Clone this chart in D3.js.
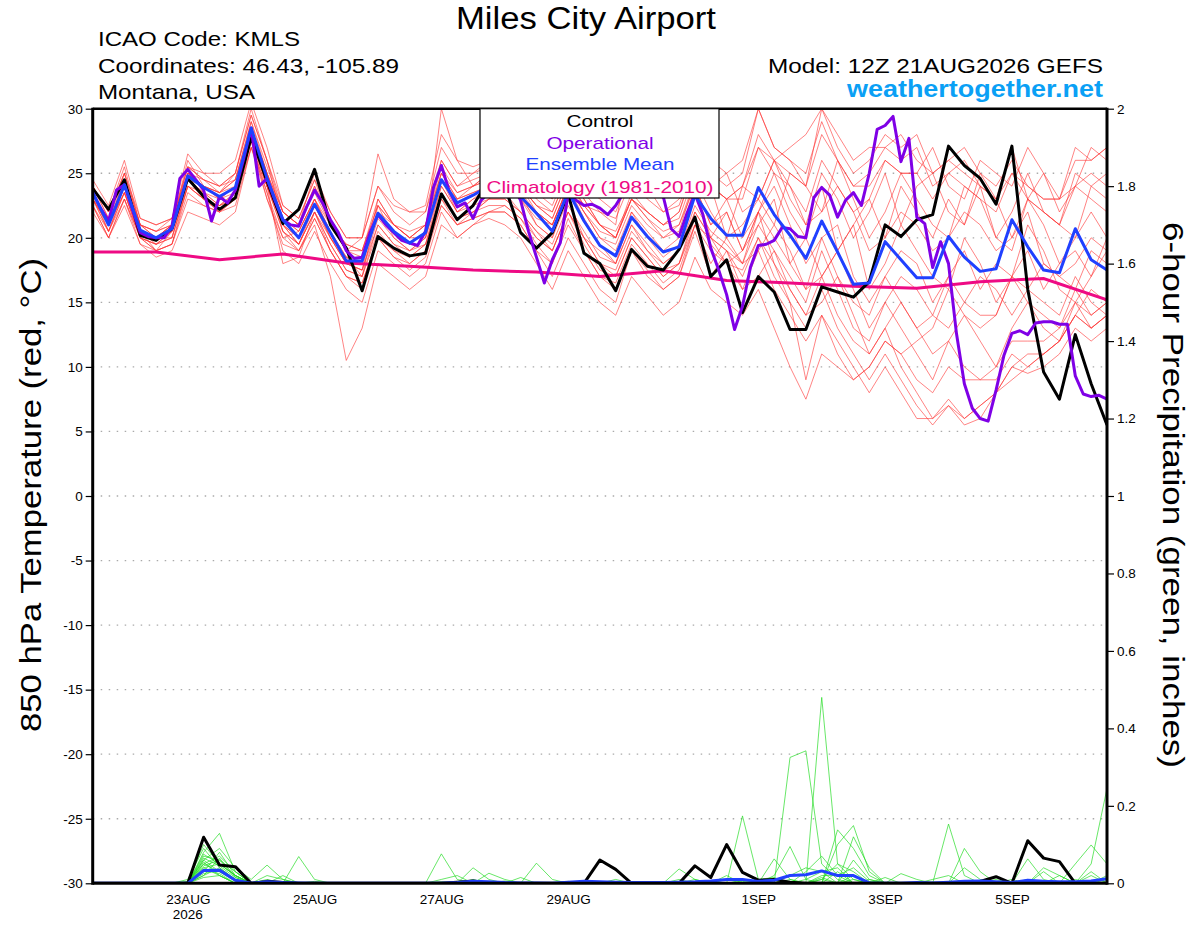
<!DOCTYPE html>
<html><head><meta charset="utf-8">
<script src="https://cdn.jsdelivr.net/npm/d3@7"></script>
<style>
body{margin:0;background:#fff}
svg{display:block;font-family:"Liberation Sans",Arial,Helvetica,sans-serif}
</style>
</head><body>
<svg id="c" width="1200" height="927"></svg>
<script>
// ---------------- DATA ----------------
const titleText = "Miles City Airport";
const infoLines = ["ICAO Code: KMLS", "Coordinates: 46.43, -105.89", "Montana, USA"];
const modelText = "Model: 12Z 21AUG2026 GEFS";
const siteText = "weathertogether.net";
const legendLabels = ["Control", "Operational", "Ensemble Mean", "Climatology (1981-2010)"];
const tempTicks = [-30,-25,-20,-15,-10,-5,0,5,10,15,20,25,30];
const precipTicks = [0,0.2,0.4,0.6,0.8,1,1.2,1.4,1.6,1.8,2];
const dateTicks = ["2026-08-23","2026-08-25","2026-08-27","2026-08-29","2026-09-01","2026-09-03","2026-09-05"];
const dateTickLabels = ["23AUG","25AUG","27AUG","29AUG","1SEP","3SEP","5SEP"];
const yearLabel = "2026";

// 850 hPa temperature, 6-hourly from 12Z 21AUG2026 (65 values)
const controlTemp = [
 23.8,22.2,24.5,20.2,19.8,20.7,24.6,23.2,22.2,23.1,27.8,24.4,21.1,
 22.2,25.3,21.0,19.2,15.9,20.1,19.2,18.6,18.8,23.4,21.4,22.5,24.5,
 24.0,20.4,19.2,20.4,23.4,18.8,18.0,15.9,19.1,17.8,17.5,19.1,21.6,
 17.0,18.3,14.2,17.0,15.8,12.9,12.9,16.2,15.8,15.4,16.6,21.0,20.1,
 21.4,21.8,27.1,25.6,24.6,22.6,27.1,16.0,9.6,7.5,12.5,8.7,5.5];
const meanTemp = [
 23.5,21.0,24.1,20.6,20.0,20.7,24.8,23.9,23.2,23.9,28.5,24.6,21.4,
 20.0,22.6,20.4,18.2,18.2,21.9,20.5,19.6,20.4,24.5,22.7,23.3,24.0,
 24.2,23.2,21.9,20.5,23.6,21.3,19.4,18.6,21.6,20.1,18.9,19.3,23.3,
 21.5,20.2,20.2,23.9,21.8,20.2,18.4,21.3,18.9,16.4,16.5,19.7,18.3,
 16.9,16.9,20.1,18.5,17.4,17.6,21.4,19.3,17.5,17.3,20.7,18.3,17.5];
// operational, 3-hourly (129 values)
const operTemp = [
 23.5,22.3,21.3,23.7,24.1,22.2,20.4,20.1,20.0,20.0,
 20.9,24.6,25.3,24.5,23.7,21.3,23.2,22.7,23.7,26.0,
 28.5,24.0,24.6,22.9,21.4,21.0,20.9,22.4,23.7,22.7,
 21.4,20.4,19.0,18.4,18.5,20.4,21.8,21.0,20.4,19.8,
 19.6,19.4,20.5,23.9,25.6,23.6,22.4,22.7,21.5,22.9,
 23.5,24.0,24.5,24.0,22.9,20.5,18.5,16.5,18.3,19.6,
 23.4,22.9,22.5,22.6,22.3,21.8,22.5,23.5,24.0,24.5,
 24.5,24.2,23.2,20.7,20.1,21.9,23.4,21.8,19.2,17.5,
 15.6,12.9,14.7,17.7,19.4,19.5,19.8,20.8,20.7,20.1,
 20.0,23.1,23.9,23.3,21.6,22.9,23.5,22.5,25.0,28.4,
 28.7,29.4,25.9,27.7,21.6,21.1,17.7,19.7,18.0,12.6,
 8.7,6.8,6.0,5.8,8.2,10.9,12.6,12.8,12.5,13.4,
 13.5,13.5,13.3,13.3,9.3,7.9,7.7,7.8,7.5];
// climatology, daily at 12Z (17 values)
const climTemp = [18.9,18.9,18.3,18.75,18.05,17.8,17.5,17.35,17.0,17.45,16.7,16.5,16.25,16.1,16.6,16.85,15.2];

// ensemble members, 850 hPa temperature (20 x 65)
const memberTemps = [
 [24,21.5,25,21,20,21,25.5,24.5,24,25,29.5,26,22, 21,24,21.5,19,19,23,21,20,21,26,24,25,25.5, 26,25,23,22,25,23,21,20,23,22,21,22,26, 24,23,23,27,25,24,22,26,24,22,23,26,25, 25,27,24,23,26,25,24,27,25,23,24,27,26],
 [23,20.5,23.5,20,19.5,20,24,23,22.5,23,28,24,21, 19.5,22,19.5,17.5,17,21,19.5,18.5,19.5,23.5,21.5,22,23, 23,22,20.5,19,22,20,18,17,20,18.5,17,18,21.5, 19.5,18,17.5,20,18,16,14,17,14,12,11,13,10, 8,6,7.5,6,7,8,10,9.5,10,11,13,12,13],
 [22.5,20,23,20,19,20.5,24.5,23,22,23.5,27.5,23,20, 20.5,23,20,18,17.5,23,21,20,20,30,26,24,25, 25,24,22,21,24,22,20,19,22,20.5,19,20,24, 21,22,19,22,24,21,18,20,21,17,15,17,19, 18,15,17,19,16,18,17,21,19,16,15,17,19],
 [24,22,25,21,20.5,21.5,25,24,23.5,24,28.5,25,20.5, 19,21,17,10.5,13,18,17,16,17,21,20,21,22, 22,21,19,17,20,18,16,15,19,17,16,17,21, 20,18,19,22,20,18,16,20,17,15,14,17,15, 13,14,17,15,14,14,17,16,15,14,17,15,14],
 [23.5,21,24.5,20.5,20,21,25,24.5,23.5,24.5,29,25,22, 21,25,22,20,20,24,22,21,22,27,25,25,26, 27,25,24,23,26,24,23,22,25,24,23,24,27, 26,25,26,30,27,26,24,30,27,25,26,28,27, 28,25,26,27,25,24,26,24,23,23,27,26,27],
 [23,21,23.5,20.5,19,19.5,24,23,22,23,27,23.5,19, 18,20.5,18,16,15,19,18,17,18,22,20,21,21.5, 21,20,18,16,19,17,15,14,17,15.5,14,15,18.5, 16,15,14,16,13,10,7.5,11,10,9,10,12,11, 12,13,16,14,13,14,17,15,14,13,16,14,15],
 [24.5,22.5,26,21.5,21,21.5,26.5,25,25,26,30.5,27,22.5, 21.5,24.5,21,19.5,19,22.5,21,20.5,21,25,23,24,24.5, 25,23,21.5,21,24,22.5,22,21,28,24,22,23,25, 24,25,22,23,26,24,21,22,24,22,19,20,22, 21,19,20,22,21,19,20,22,18,17,18,20,19],
 [22,20,22.5,19.5,18.5,19,22,21.5,21,22,27,24,18, 18.5,22,19,17,16,20,18.5,18,19,23,21.5,22,23, 24,23,21,20,23,20,19,18,21,19,18,19,22, 20,19,18,21,19,17,15,19,16,13,12,15,13, 11,9,12,10,9,9,11,10,11,12,15,13,14],
 [23,21.5,24,20.5,20,20.5,25,24,23,24,28.5,24.5,21, 20,22.5,20,18.5,18.5,22,20.5,19.5,20.5,25,23,23.5,24, 24.5,23.5,22,21,24,22,20,19.5,22.5,21,20,20.5,24.5, 22,20,24,23,21,25,24,22,26,23,20,22,25, 23,21,20,24,23,20,22,25,22,21,20,24,23],
 [23.5,20.5,24,20.5,20,21,24.5,23.5,23,23.5,28,24,21, 19.5,22,20,18,17.5,21,19.5,19,20,24,22,23,23.5, 23.5,22,20,19,22,20,18,17.5,20.5,19,17.5,18,22, 20,19,17,20,17,15,13,16,13,11,9,11,9, 7,5.5,7,5.5,6,8,9,10,11,12,14,13,14],
 [24,21.5,24.5,21,20.5,21,25.5,24.5,24,24.5,29,25.5,22, 21,23.5,21,19,20,26.5,23,22,22,26,24,24.5,25, 25,24,22.5,21.5,24.5,22.5,21,20,23,21.5,20,21,24, 21,23,20,22,25,22,20,24,19,21,23,20,24, 22,20,23,21,24,20,19,23,21,18,20,22,20],
 [23,21,24,20.5,20,20,24.5,23.5,22.5,23.5,28,24,21.5, 20.5,23,20.5,18.5,18,22,21,20,21,25.5,23.5,24,24.5, 25,24,22.5,22,25,23,21,20,23,22,21,22,25.5, 24,23,24,28,26,25,24,28,26,24,25,27,26, 27,24,25,26,24,23,27,23,22,21,25,24,25],
 [22.5,20.5,23,19.5,19,19.5,23,22.5,22,22.5,27,23,19.5, 19,21.5,19,17,16.5,20,19,18,19,22.5,21,21.5,22, 22,21,19,18,21,19,17,16,19,17.5,16,17,20.5, 17,19,16,17,19,16,14,15,17,14,11,13,15, 13,11,12,14,12,10,13,15,13,12,14,16,15],
 [24,22,25.5,21,20,21,26,24,23.5,25,29.5,26,21, 20,23,20.5,18.5,17,22.5,20,19,20,24.5,22,23,24, 25,23.5,21,20,24,21.5,19.5,18,22,20,18.5,19.5,24, 20,22,19,21,23,18,20,17,19,21,16,18,21, 19,17,16,20,18,15,17,19,16,18,19,17,20],
 [23.5,21,24,20.5,19.5,20.5,24.5,24,23,24,28.5,25,21.5, 20.5,23,21,19,18.5,22,20.5,19.5,20.5,24.5,23,23.5,24, 24,23,22,21,24,22,20.5,20,23.5,22,21,21.5,25, 24,23,24,27,26,27,28,30,28,26,27,27,28, 26,25,26,25,24,23,25,24,23,23,26,26,27],
 [23,20.5,23.5,20,19.5,20,24,23.5,22.5,23.5,28,24,20.5, 19.5,22.5,20,18,17.5,21.5,20,19,19.5,24,22,22.5,23, 23,22,20.5,19.5,22.5,20.5,18.5,18,21,19.5,18,19,22.5, 20.5,19.5,18,22,18,15,9,14,12,10,8,10,8, 6,6,7,6,7,8,10,11,11,12,14,13,14],
 [23.5,21,24.5,21,20.5,21,25,24,23.5,24.5,28.5,25,22, 21,24,21,19.5,19,22.5,21,20,21,25,23.5,24,25, 25,24,22.5,21.5,24.5,22.5,21,20.5,23,21.5,20.5,21,24.5, 24,20,21,23,26,23,21,25,23,20,22,25,21, 24,25,22,21,25,23,20,23,25,22,24,25,24],
 [22.5,20,23,20,19,19.5,23.5,22.5,22,23,27.5,23.5,20, 19,21.5,19,17,16.5,20,18.5,17.5,18.5,22.5,21,21.5,22, 22.5,21.5,20,19,22,19.5,17.5,17,20,18.5,17,18,21, 18,20,18,19,21,19,16,17,19,16,13,15,17, 16,14,13,15,17,16,14,16,18,17,16,19,18],
 [24,22,25,21.5,21,21.5,25.5,25,24,25,30,26,22.5, 21.5,24.5,22,20,20,24,22.5,22,22.5,28,26,25.5,26, 26,25,23.5,22.5,25.5,23.5,22,21.5,24.5,23,22,22.5,26, 25,24,25,30,27,26,25,29,26,24,24,26,25, 25,23,25,24,23,22,25,23,22,21,24,23,22],
 [23,21,23.5,20,19.5,20.5,24,23,22.5,23,27.5,24,20.5, 19.5,22,19.5,17.5,17,20.5,19,18.5,19.5,23,21,22,22.5, 22.5,21.5,19.5,18,21.5,19,17,16.5,19.5,18,16.5,17.5,21, 19,18,16,19,16,14,12,14,11,9,10,12,11, 9,8,10,9,9,10,12,12,12,13,15,14,15]
];

// 6-hour precipitation (inches), 65 values
const controlPrecip = [
 0,0,0,0,0,0,0,0.119,0.047,0.043,0,0.005,0.002,
 0,0,0,0,0,0,0,0,0,0,0.003,0.006,0,
 0,0,0,0,0,0,0.06,0.036,0,0,0,0,0.045,
 0.015,0.1,0.028,0.008,0.01,0.003,0,0,0,0,0,0,0,
 0,0,0,0,0.005,0.017,0,0.11,0.065,0.056,0,0,0];
const meanPrecip = [
 0,0,0,0,0,0,0,0.033,0.034,0.008,0,0.004,0.002,
 0.001,0,0,0,0,0,0,0,0,0,0.002,0.005,0.004,
 0.002,0.001,0.001,0,0.003,0.005,0.004,0.003,0.002,0.002,0.002,0.003,0.004,
 0.006,0.01,0.01,0.005,0.008,0.02,0.022,0.032,0.02,0.02,0.001,0,0,
 0.002,0.001,0.003,0.005,0.006,0.004,0.002,0.008,0.005,0.004,0.004,0.006,0.012];
const memberPrecips = [
 [0,0,0,0,0,0,.005,.1,.05,.02,0,0,0, 0,0,0,0,0,0,0,0,0,.076,.01,0,0, 0,0,0,0,0,0,0,0,0,0,0,0,0, 0,0,0,0,0,.325,.342,.05,.01,0,0,0,0, 0,0,0,0,0,0,.01,0,0,0,0,0,0],
 [0,0,0,0,0,0,0,.08,.129,.03,0,0,0, .069,.01,0,0,0,0,0,0,0,0,0,0,0, 0,0,0,0,0,0,0,0,0,0,0,0,0, 0,0,0,0,0,0,0,.48,.05,.01,0,0,0, 0,0,0,0,0,0,0,0,.03,0,0,0,0],
 [0,0,0,0,0,0,0,.06,.09,.04,.01,.047,.01, 0,0,0,0,0,0,0,0,0,0,0,0,0, 0,0,.052,.01,0,0,0,0,0,0,0,0,0, 0,0,.174,.01,0,0,0,0,0,0,0,0,0, 0,0,.153,.02,0,0,0,0,0,0,0,0,0],
 [0,0,0,0,0,0,0,.07,.06,.02,0,0,0, 0,0,0,0,0,0,0,0,0,0,0,.04,.01, 0,0,0,0,0,0,0,0,0,0,0,0,0, 0,0,0,0,0,0,0,0,.138,.09,.02,0,0, 0,0,0,0,0,0,0,0,0,0,0,.05,.245],
 [0,0,0,0,0,0,0,.05,.07,.03,0,0,.02, 0,0,0,0,0,0,0,0,0,0,0,0,0, 0,0,0,0,0,0,0,0,0,0,0,0,0, 0,0,0,0,0,0,0,0,.1,.149,.03,0,0, 0,0,0,0,0,0,0,.063,.01,0,0,0,0],
 [0,0,0,0,0,0,.01,.09,.04,.01,0,0,0, 0,0,0,0,0,0,0,0,0,0,0,0,0, 0,0,0,0,0,0,0,0,0,0,0,0,0, 0,0,0,0,.02,.095,.01,0,0,0,0,0,0, 0,0,0,.09,.03,0,0,0,0,0,0,0,0],
 [0,0,0,0,0,0,0,.04,.05,.02,0,0,0, 0,0,0,0,0,0,0,0,0,0,0,0,.026, .01,0,0,0,0,0,0,0,0,0,0,.037,.01, 0,0,0,0,0,0,0,0,0,.12,.04,0,0, 0,0,0,0,0,0,0,0,0,0,.05,.099,.05],
 [0,0,0,0,0,0,0,.03,.08,.02,0,.02,.01, 0,0,0,0,0,0,0,0,0,0,0,0,0, 0,.015,0,0,0,0,0,0,0,0,0,0,0, 0,0,0,0,.063,.01,0,0,0,.06,.01,0,0, 0,0,0,0,0,0,0,0,0,.02,0,0,0],
 [0,0,0,0,0,0,0,.06,.03,.01,0,0,0, 0,0,0,0,0,0,0,0,0,.01,.02,0,0, 0,0,0,0,0,0,0,.01,0,0,0,0,0, 0,0,0,0,0,0,.03,.07,.02,0,0,0,.025, .01,0,0,0,0,0,0,0,0,0,0,0,0],
 [0,0,0,0,0,0,0,.02,.04,.01,0,0,0, 0,.005,0,0,0,0,0,0,0,0,0,0,0, 0,0,0,0,0,0,0,0,0,0,0,0,.01, 0,0,0,.005,0,0,0,.01,.05,.03,0,.015,0, 0,0,0,0,.005,0,0,0,.04,.02,0,0,0],
 [0,0,0,0,0,0,0,.055,.02,0,0,0,0, 0,0,0,0,0,0,0,0,0,0,0,0,0, 0,0,0,0,.005,0,0,0,0,0,0,0,0, 0,.02,0,0,0,.02,.04,.03,0,0,0,0,0, 0,0,0,0,0,0,0,.01,0,0,0,0,0],
 [0,0,0,0,0,0,0,.045,.06,.03,0,.01,0, 0,0,0,0,0,0,0,0,0,0,0,0,0, 0,0,0,0,0,0,0,0,0,0,0,0,0, 0,0,0,0,0,0,0,.02,.02,.04,.005,0,0, 0,0,0,0,0,0,0,0,0,0,0,.02,0],
 [0,0,0,0,0,0,0,.035,.025,0,0,0,0, 0,0,0,0,0,0,0,0,0,0,.005,0,0, 0,0,0,0,0,0,0,0,0,0,0,0,0, 0,0,0,.01,.015,0,0,0,0,0,0,0,0, 0,0,0,.04,.01,0,0,0,0,0,0,0,0],
 [0,0,0,0,0,0,0,.065,.045,.015,0,0,0, 0,0,0,0,0,0,0,0,0,0,0,0,0, .006,0,0,0,0,0,0,0,0,0,0,0,0, 0,0,0,0,0,.01,0,0,.03,0,0,0,0, 0,0,0,0,0,0,0,0,0,0,0,0,.02],
 [0,0,0,0,0,0,0,.025,.035,.01,0,0,0, 0,0,0,0,0,0,0,0,0,0,0,0,0, 0,0,0,0,0,0,0,0,0,0,0,0,0, 0,.01,0,0,0,0,0,.015,0,0,.01,0,0, 0,0,0,0,0,0,.005,0,0,0,.01,0,0],
 [0,0,0,0,0,0,0,.075,.05,.02,0,0,.005, 0,0,0,0,0,0,0,0,0,0,0,0,0, 0,0,0,0,0,0,0,0,0,0,0,.01,0, 0,0,0,0,0,.005,0,0,0,.02,0,0,0, 0,0,0,0,0,0,0,0,0,0,0,.03,0],
 [0,0,0,0,0,0,0,.015,.02,0,0,0,0, 0,0,0,0,0,0,0,0,0,0,0,0,0, 0,0,0,0,0,0,0,0,0,0,0,0,0, 0,0,0,0,0,0,.01,.03,.04,0,0,0,0, 0,0,0,0,0,0,0,0,.005,0,0,0,0],
 [0,0,0,0,0,0,0,.05,.03,.005,0,0,0, 0,0,0,0,0,0,0,0,0,0,0,.01,0, 0,0,0,0,0,0,0,0,0,0,0,0,0, 0,0,.005,0,0,0,0,0,0,0,0,0,0, 0,.01,.02,0,0,0,0,0,0,0,0,0,0],
 [0,0,0,0,0,0,0,.02,.065,.015,0,0,0, 0,0,0,0,0,0,0,0,0,0,0,0,0, 0,0,0,0,0,.006,0,0,0,0,0,0,0, 0,0,0,0,0,.005,0,.01,0,0,0,0,0, 0,0,0,0,0,0,0,0,0,0,0,0,.01],
 [0,0,0,0,0,0,0,.04,.02,0,0,0,0, 0,0,0,0,0,0,0,0,0,.004,0,0,0, 0,0,0,0,0,0,0,0,0,0,0,0,0, 0,0,0,0,0,0,0,0,0,.01,0,0,0, 0,0,0,0,0,.01,0,0,0,0,0,0,0]
];

// ---------------- CHART ----------------
const svg = d3.select("#c");
const H = 3600e3;
const start = Date.UTC(2026,7,21,12);
const L = 92.7, R = 1107, T = 108.7, B = 883.3;
const x = d3.scaleUtc().domain([new Date(start), new Date(start + 384*H)]).range([L, R]);
const yT = d3.scaleLinear().domain([-30, 30]).range([B, T]);
const yP = d3.scaleLinear().domain([0, 2]).range([B, T]);
const t6 = d3.range(65).map(i => new Date(start + i*6*H));
const t3 = d3.range(129).map(i => new Date(start + i*3*H));
const tD = d3.range(17).map(i => new Date(start + i*24*H));

const C = {red:"#ff3030", green:"#1fdc1f", control:"#000000", oper:"#7f00e6", mean:"#2040ff", clim:"#ee0a84", site:"#0aa0f5"};

svg.append("defs").append("clipPath").attr("id","plot")
  .append("rect").attr("x",L).attr("y",T).attr("width",R-L).attr("height",B-T);

// grid
svg.append("g").selectAll("line").data(tempTicks.filter(v => v > -30 && v < 30)).join("line")
  .attr("x1",L).attr("x2",R).attr("y1",d=>yT(d)).attr("y2",d=>yT(d))
  .attr("stroke","#aaaaaa").attr("stroke-width",1.3).attr("stroke-dasharray","1.5,6.5");

const g = svg.append("g").attr("clip-path","url(#plot)");
const lineT = times => d3.line().x((d,i)=>x(times[i])).y(d=>yT(d));
const lineP = d3.line().x((d,i)=>x(t6[i])).y(d=>yP(d));

g.append("g").selectAll("path").data(memberTemps).join("path")
  .attr("d", lineT(t6)).attr("fill","none").attr("stroke",C.red)
  .attr("stroke-width",0.8).attr("stroke-opacity",0.75);
g.append("g").selectAll("path").data(memberPrecips).join("path")
  .attr("d", lineP).attr("fill","none").attr("stroke",C.green)
  .attr("stroke-width",0.8).attr("stroke-opacity",0.85);

g.append("path").datum(climTemp).attr("d", lineT(tD)).attr("fill","none").attr("stroke",C.clim).attr("stroke-width",3);
g.append("path").datum(controlTemp).attr("d", lineT(t6)).attr("fill","none").attr("stroke",C.control).attr("stroke-width",3).attr("stroke-linejoin","round");
g.append("path").datum(operTemp).attr("d", lineT(t3)).attr("fill","none").attr("stroke",C.oper).attr("stroke-width",3).attr("stroke-linejoin","round");
g.append("path").datum(meanTemp).attr("d", lineT(t6)).attr("fill","none").attr("stroke",C.mean).attr("stroke-width",3).attr("stroke-linejoin","round");
g.append("path").datum(controlPrecip).attr("d", lineP).attr("fill","none").attr("stroke",C.control).attr("stroke-width",3).attr("stroke-linejoin","round");
g.append("path").datum(meanPrecip).attr("d", lineP).attr("fill","none").attr("stroke",C.mean).attr("stroke-width",3).attr("stroke-linejoin","round");

// axes
const axL = svg.append("g").attr("transform",`translate(${L},0)`)
  .call(d3.axisLeft(yT).tickValues(tempTicks).tickSize(7).tickSizeOuter(0).tickPadding(3).tickFormat(d=>String(d)));
const axR = svg.append("g").attr("transform",`translate(${R},0)`)
  .call(d3.axisRight(yP).tickValues(precipTicks).tickSize(7).tickSizeOuter(0).tickPadding(3).tickFormat(d=>String(+d.toFixed(1))));
const axB = svg.append("g").attr("transform",`translate(0,${B})`)
  .call(d3.axisBottom(x).tickValues(dateTicks.map(s=>new Date(s+"T00:00:00Z"))).tickSize(0).tickPadding(11)
  .tickFormat((d,i)=>dateTickLabels[i]));
[axL,axR,axB].forEach(a=>{
  a.select(".domain").remove();
  a.selectAll("text").attr("font-family","Liberation Sans, Arial, sans-serif").attr("font-size",13.5).attr("fill","#000");
  a.selectAll("line").attr("stroke","#000").attr("stroke-width",1.2);
});
svg.append("text").attr("x",x(new Date("2026-08-23T00:00:00Z"))).attr("y",919)
  .attr("text-anchor","middle").attr("font-size",13.5).text(yearLabel);

// frame
const frame = svg.append("g").attr("stroke","#000");
frame.append("line").attr("x1",L).attr("x2",R).attr("y1",T).attr("y2",T).attr("stroke-width",2.5);
frame.append("line").attr("x1",L).attr("x2",R).attr("y1",B).attr("y2",B).attr("stroke-width",3);
frame.append("line").attr("x1",L).attr("x2",L).attr("y1",T-1).attr("y2",B+1.5).attr("stroke-width",3);
frame.append("line").attr("x1",R).attr("x2",R).attr("y1",T-1).attr("y2",B+1.5).attr("stroke-width",3);

// axis titles
svg.append("text").attr("transform","translate(41,495) rotate(-90)").attr("text-anchor","middle")
  .attr("font-size",29).attr("textLength",474).attr("lengthAdjust","spacingAndGlyphs")
  .text("850 hPa Temperature (red, \u00B0C)");
svg.append("text").attr("transform","translate(1163,495) rotate(90)").attr("text-anchor","middle")
  .attr("font-size",29).attr("textLength",546).attr("lengthAdjust","spacingAndGlyphs")
  .text("6-hour Precipitation (green, inches)");

// header
function txt(s, xPos, yPos, size, len, anchor, color, weight){
  return svg.append("text").attr("x",xPos).attr("y",yPos).attr("font-size",size)
    .attr("text-anchor",anchor||"start").attr("fill",color||"#000").attr("font-weight",weight||"normal")
    .attr("textLength",len).attr("lengthAdjust","spacingAndGlyphs").text(s);
}
txt(titleText, 456, 29, 31, 260);
txt(infoLines[0], 98, 46, 21, 202);
txt(infoLines[1], 98, 72.5, 21, 301);
txt(infoLines[2], 98, 99, 21, 157);
txt(modelText, 768, 72.5, 21, 335);
txt(siteText, 847, 97, 24, 256, "start", C.site, "bold");

// legend
svg.append("rect").attr("x",480).attr("y",T).attr("width",239).attr("height",198-T)
  .attr("fill","#fff").attr("stroke","#000").attr("stroke-width",1.2);
const legColors = [C.control, C.oper, C.mean, C.clim];
const legY = [127, 148.5, 170, 192.5];
const legW = [67, 107, 149, 227];
legendLabels.forEach((s,i)=>{
  svg.append("text").attr("x",600).attr("y",legY[i]).attr("text-anchor","middle")
    .attr("font-size",17).attr("fill",legColors[i])
    .attr("textLength",legW[i]).attr("lengthAdjust","spacingAndGlyphs").text(s);
});
</script>
</body></html>
